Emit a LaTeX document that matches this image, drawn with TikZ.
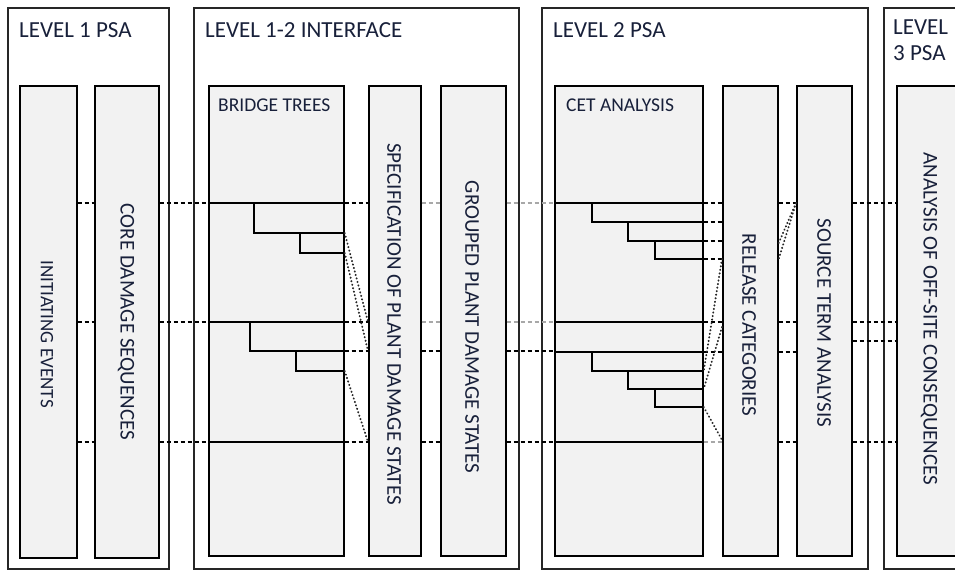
\documentclass[tikz,border=0pt]{standalone}
\usepackage{fontspec}
\setmainfont{Carlito}
\definecolor{boxfill}{HTML}{F2F2F2}
\definecolor{ink}{HTML}{18203A}
\definecolor{lightdash}{HTML}{A8A8A8}
\begin{document}
\begin{tikzpicture}[x=1pt,y=-1pt,
  panel/.style={draw=black!85, line width=1.7pt, anchor=north west, inner sep=0pt},
  inbox/.style={draw=black, fill=boxfill, line width=1.7pt, anchor=north west, inner sep=0pt},
  title/.style={font=\fontsize{23}{27}\selectfont, text=ink, anchor=west, inner sep=0pt},
  subtitle/.style={font=\fontsize{19.5}{22}\selectfont, text=ink, anchor=west, inner sep=0pt},
  vlabel/.style={font=\fontsize{21}{24}\selectfont, rotate=-90, text=ink, inner sep=0pt},
  tree/.style={line width=1.4pt},
  dashln/.style={line width=1.4pt, dash pattern=on 4pt off 3pt},
  gdash/.style={dashln, draw=lightdash},
  dotln/.style={line width=1.9pt, line cap=round, dash pattern=on 0.4pt off 3.2pt, draw=black!85}]
\clip (0,0) rectangle (955,570);
\fill[white] (0,0) rectangle (955,570);

% stage panels
\node[panel, minimum width=161, minimum height=561] (p1) at (7,7) {};
\node[panel, minimum width=325, minimum height=561] (p2) at (193,7) {};
\node[panel, minimum width=326, minimum height=561] (p3) at (541,7) {};
\node[panel, minimum width=110, minimum height=561] (p4) at (883,7) {};

% stage titles
\node[title] (t1) at (19,30) {LEVEL 1 PSA};
\node[title] (t2) at (205,30) {LEVEL 1-2 INTERFACE};
\node[title] (t3) at (553,30) {LEVEL 2 PSA};
\node[title] (t4a) at (893,27) {LEVEL};
\node[title] (t4b) at (893,53) {3 PSA};

% step boxes
\node[inbox, minimum width=57, minimum height=472] (ie) at (19,85) {};
\node[inbox, minimum width=64, minimum height=472] (cds) at (94,85) {};
\node[inbox, minimum width=135, minimum height=470] (bt) at (208,85) {};
\node[inbox, minimum width=52, minimum height=470] (spec) at (368,85) {};
\node[inbox, minimum width=65, minimum height=470] (grp) at (440,85) {};
\node[inbox, minimum width=148, minimum height=470] (cet) at (554,85) {};
\node[inbox, minimum width=55, minimum height=470] (rc) at (722,85) {};
\node[inbox, minimum width=55, minimum height=470] (st) at (796,85) {};
\node[inbox, minimum width=67, minimum height=470] (off) at (896,85) {};

\node[subtitle] (sbt) at (218,105) {BRIDGE TREES};
\node[subtitle] (scet) at (566,105) {CET ANALYSIS};

% vertical labels
\node[vlabel, font=\fontsize{19}{22}\selectfont] (lie) at (47,334) {INITIATING EVENTS};
\node[vlabel] (lcds) at (126,322) {CORE DAMAGE SEQUENCES};
\node[vlabel] (lspec) at (394,324) {SPECIFICATION OF PLANT DAMAGE STATES};
\node[vlabel] (lgrp) at (472,327) {GROUPED PLANT DAMAGE STATES};
\node[vlabel] (lrc) at (749,325) {RELEASE CATEGORIES};
\node[vlabel] (lst) at (824,323) {SOURCE TERM ANALYSIS};
\node[vlabel] (lof) at (929,319) {ANALYSIS OF OFF-SITE CONSEQUENCES};

% level 1 sequences into the bridge trees
\foreach \y in {203,322,442}{
  \draw[dashln] (ie.east |- 0,\y) -- (cds.west |- 0,\y);
  \draw[dashln] (cds.east |- 0,\y) -- (bt.west |- 0,\y);
  \draw[tree] (bt.west |- 0,\y) -- (bt.east |- 0,\y);
}
% bridge tree branches
\draw[tree] (254,203) |- (bt.east |- 0,233);
\draw[tree] (300,233) |- (bt.east |- 0,253);
\draw[tree] (250,322) |- (bt.east |- 0,351);
\draw[tree] (296,351) |- (bt.east |- 0,371);
\foreach \y in {203,322,351,442}
  \draw[dashln] (bt.east |- 0,\y) -- (spec.west |- 0,\y);
\draw[dotln] (bt.east |- 0,233) -- (spec.west |- 0,322);
\draw[dotln] (bt.east |- 0,253) -- (spec.west |- 0,351);
\draw[dotln] (bt.east |- 0,371) -- (spec.west |- 0,442);

% plant damage states into the containment event trees
\foreach \y in {203,322}{
  \draw[gdash] (spec.east |- 0,\y) -- (grp.west |- 0,\y);
  \draw[gdash] (grp.east |- 0,\y) -- (cet.west |- 0,\y);
}
\foreach \y in {351,442}{
  \draw[dashln] (spec.east |- 0,\y) -- (grp.west |- 0,\y);
  \draw[dashln] (grp.east |- 0,\y) -- (cet.west |- 0,\y);
}

% containment event trees
\foreach \y in {203,322,352,442}
  \draw[tree] (cet.west |- 0,\y) -- (cet.east |- 0,\y);
\draw[tree] (592,203) |- (cet.east |- 0,222);
\draw[tree] (628,222) |- (cet.east |- 0,241);
\draw[tree] (655,241) |- (cet.east |- 0,259);
\draw[tree] (592,352) |- (cet.east |- 0,371);
\draw[tree] (628,371) |- (cet.east |- 0,389);
\draw[tree] (655,389) |- (cet.east |- 0,407);
\foreach \y in {203,222,241,259,322,352}
  \draw[dashln] (cet.east |- 0,\y) -- (rc.west |- 0,\y);
\draw[gdash] (cet.east |- 0,442) -- (rc.west |- 0,442);
\draw[dotln] (rc.west |- 0,259) -- (cet.east |- 0,371);
\draw[dotln] (rc.west |- 0,327) -- (cet.east |- 0,389);
\draw[dotln] (cet.east |- 0,407) -- (rc.west |- 0,440);

% release categories to source terms and consequences
\foreach \y in {203,322,352,442}
  \draw[dashln] (rc.east |- 0,\y) -- (st.west |- 0,\y);
\draw[dotln] (st.west |- 0,203) -- (rc.east |- 0,243);
\draw[dotln] (st.west |- 0,203) -- (rc.east |- 0,259);
\foreach \y in {203,322,341,442}
  \draw[dashln] (st.east |- 0,\y) -- (off.west |- 0,\y);
\end{tikzpicture}
\end{document}
